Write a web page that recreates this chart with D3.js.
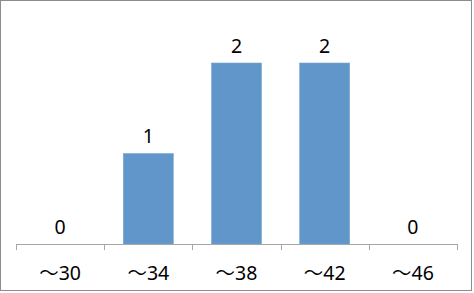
<!DOCTYPE html>
<html>
<head>
<meta charset="utf-8">
<script src="https://cdn.jsdelivr.net/npm/d3@7"></script>
<style>
  body { margin: 0; background: #fff; }
  text { font-family: "Noto Sans", "Noto Sans CJK JP", sans-serif; fill: #000; }
</style>
</head>
<body>
<svg width="474" height="293"></svg>
<script>
var categories = ["～30", "～34", "～38", "～42", "～46"];
var counts = [0, 1, 2, 2, 0];

var svg = d3.select("svg"),
    left = 16, right = 457, base = 244;

// outer frame
svg.append("rect")
    .attr("x", 0.5).attr("y", 0.5)
    .attr("width", 471).attr("height", 290)
    .style("fill", "#fff")
    .style("stroke", "#8c8c8c");

var x = d3.scaleBand()
    .domain(categories)
    .range([left, right])
    .padding(0);

var y = d3.scaleLinear()
    .domain([0, 2.5])
    .range([base, 17.75]);

var barW = x.bandwidth() * 0.567;

svg.selectAll("rect.bar")
    .data(counts)
    .enter()
    .append("rect")
    .attr("class", "bar")
    .attr("x", function(d, i) { return x(categories[i]) + (x.bandwidth() - barW) / 2; })
    .attr("y", function(d) { return y(d); })
    .attr("width", barW)
    .attr("height", function(d) { return base - y(d); })
    .style("fill", "#6096c9")
    .style("stroke", "#7aa7d4")
    .style("stroke-width", 0.6);

// value labels
svg.selectAll("text.value")
    .data(counts)
    .enter()
    .append("text")
    .attr("class", "value")
    .attr("x", function(d, i) { return x(categories[i]) + x.bandwidth() / 2; })
    .attr("y", function(d) { return y(d) - 10.5; })
    .style("text-anchor", "middle")
    .style("font-size", "19.5px")
    .text(function(d) { return d; });

// category axis
svg.append("line")
    .attr("x1", left).attr("x2", right)
    .attr("y1", base + 0.5).attr("y2", base + 0.5)
    .style("stroke", "#a6a6a6");

var edges = categories.map(function(c) { return x(c); }).concat([right]);
svg.selectAll("line.tick")
    .data(edges)
    .enter()
    .append("line")
    .attr("class", "tick")
    .attr("x1", function(d) { return Math.round(d) + 0.5; })
    .attr("x2", function(d) { return Math.round(d) + 0.5; })
    .attr("y1", base).attr("y2", base + 6)
    .style("stroke", "#a6a6a6");

svg.selectAll("text.cat")
    .data(categories)
    .enter()
    .append("text")
    .attr("class", "cat")
    .attr("x", function(d) { return x(d) + x.bandwidth() / 2; })
    .attr("y", 280)
    .style("text-anchor", "middle")
    .style("font-size", "19.5px")
    .text(function(d) { return d; });
</script>
</body>
</html>
